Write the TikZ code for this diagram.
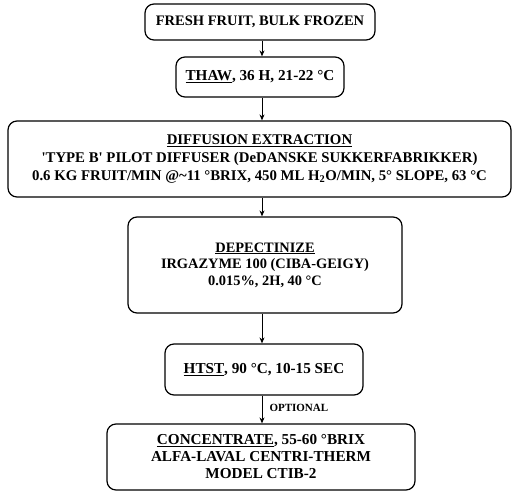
\documentclass[tikz,border=0pt]{standalone}
\usepackage{fontspec}
\setmainfont{Liberation Serif}
\usetikzlibrary{arrows.meta}
\tikzset{
  procbox/.style={draw, line width=1.2pt, rounded corners=9pt, inner sep=0pt,
    align=center, font=\bfseries\fontsize{14.5}{17}\selectfont},
  flow/.style={line width=1pt, -{Stealth[length=6pt,width=5pt]}},
  note/.style={font=\bfseries\fontsize{11}{12}\selectfont, inner sep=0pt, anchor=west}
}
\begin{document}
\begin{tikzpicture}[x=1pt,y=1pt]
\useasboundingbox (0,0) rectangle (513,-494);
\node[procbox, minimum width=230pt, minimum height=36pt] (b1) at (260,-22)
  {FRESH FRUIT, BULK FROZEN};
\node[procbox, minimum width=168pt, minimum height=40pt,
  font=\bfseries\fontsize{15.2}{17}\selectfont] (b2) at (260,-77)
  {\underline{THAW}, 36 H, 21-22 °C};
\node[procbox, minimum width=503pt, minimum height=76pt,
  font=\bfseries\fontsize{14.8}{18}\selectfont] (b3) at (259.5,-159)
  {\underline{DIFFUSION EXTRACTION}\\
   \textquotesingle TYPE B\textquotesingle{} PILOT DIFFUSER (DeDANSKE SUKKERFABRIKKER)\\
   0.6 KG FRUIT/MIN @\textasciitilde11 °BRIX, 450 ML H\textsubscript{2}O/MIN, 5° SLOPE, 63 °C};
\node[procbox, minimum width=274pt, minimum height=96pt,
  font=\bfseries\fontsize{14.4}{16.5}\selectfont] (b4) at (265,-265)
  {\underline{DEPECTINIZE}\\
   IRGAZYME 100 (CIBA-GEIGY)\\
   0.015\%, 2H, 40 °C};
\node[procbox, minimum width=198pt, minimum height=51pt,
  font=\bfseries\fontsize{15.2}{17}\selectfont] (b5) at (264,-369.5)
  {\underline{HTST}, 90 °C, 10-15 SEC};
\node[procbox, minimum width=308pt, minimum height=66pt,
  font=\bfseries\fontsize{15.2}{17}\selectfont] (b6) at (261,-457)
  {\underline{CONCENTRATE}, 55-60 °BRIX\\
   ALFA-LAVAL CENTRI-THERM\\
   MODEL CTIB-2};
\coordinate (ax) at (262,0);
\draw[flow] (b1.south -| ax) -- (b2.north -| ax);
\draw[flow] (b2.south -| ax) -- (b3.north -| ax);
\draw[flow] (b3.south -| ax) -- (b4.north -| ax);
\draw[flow] (b4.south -| ax) -- (b5.north -| ax);
\draw[flow] (b5.south -| ax) -- (b6.north -| ax) node[note, pos=0.45, xshift=7pt] (opt) {OPTIONAL};
\end{tikzpicture}
\end{document}
